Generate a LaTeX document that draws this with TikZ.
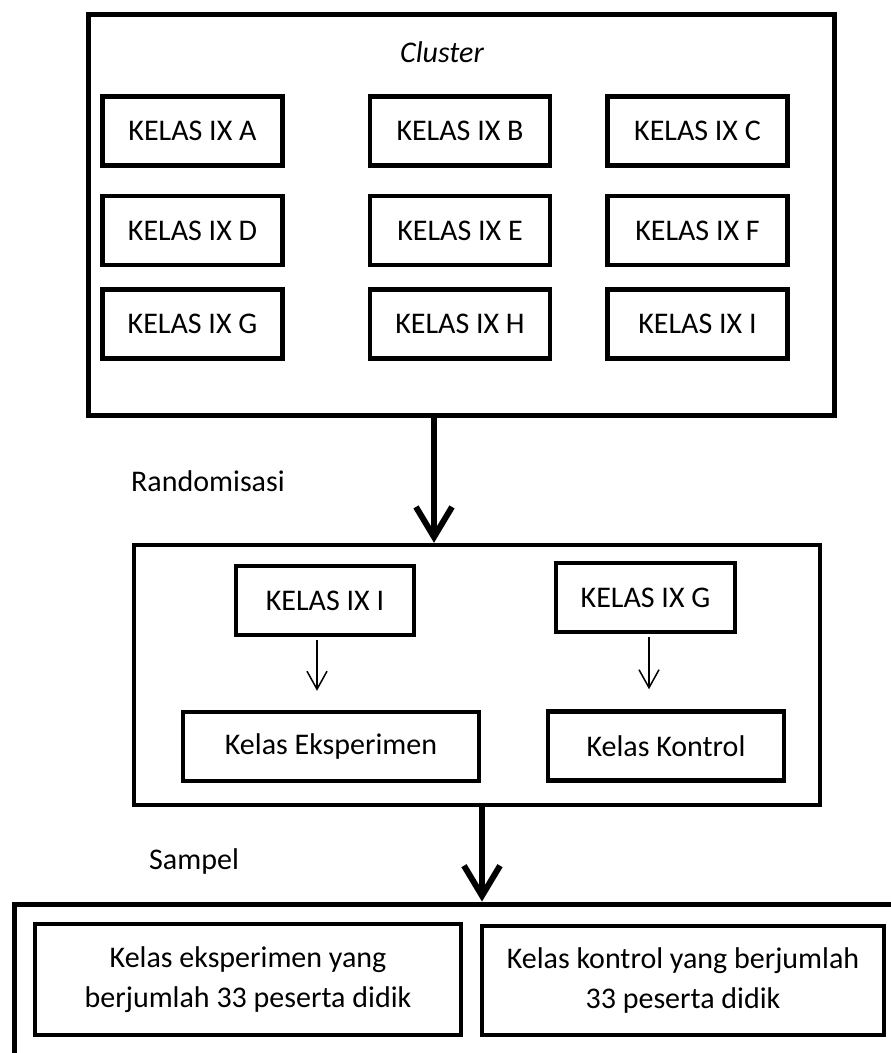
\documentclass[tikz,border=0pt]{standalone}
\usepackage{fontspec}
\setmainfont{Carlito}
\usetikzlibrary{arrows.meta}
\begin{document}
\begin{tikzpicture}[x=1pt,y=-1pt,
	kotak/.style={draw,line width=4.5pt,inner sep=0pt,minimum height=69pt,align=center,font=\fontsize{30}{40}\selectfont},
	bingkai/.style={draw,line width=5pt,inner sep=0pt},
	tebal/.style={line width=6pt,-{Straight Barb[length=30pt,width=36pt]}},
	tipis/.style={line width=1.5pt,-{Straight Barb[length=18pt,width=20pt]}},
	teks/.style={font=\fontsize{30}{36}\selectfont,anchor=west,inner sep=0pt}]
	\fill[white] (0,0) rectangle (891,1053);
	\clip (0,0) rectangle (891,1053);
	\node[bingkai,minimum width=746pt,minimum height=401pt] (cluster) at (461,214.5) {};
	\node[teks,anchor=center,font=\fontsize{30}{36}\selectfont\itshape] (judul) at (442,52) {Cluster};
	\foreach \nama/\x/\y in {A/192.5/131, B/460/131, C/697.5/131,
		D/192.5/230.5, E/460/230.5, F/697.5/230.5,
		G/192.5/324, H/460/324, I/697.5/324}
		\node[kotak,minimum width=180pt] (k\nama) at (\x,\y) {KELAS IX \nama};
	\node[bingkai,line width=4.5pt,minimum width=686pt,minimum height=260pt] (acak) at (477,675) {};
	\node[teks] (lblacak) at (131,481) {Randomisasi};
	\node[kotak,minimum width=178pt] (ki) at (325,600.5) {KELAS IX I};
	\node[kotak,minimum width=179pt] (kg) at (645.5,597.5) {KELAS IX G};
	\node[kotak,minimum width=296pt] (ke) at (331,746.5) {Kelas Eksperimen};
	\node[kotak,minimum width=236pt] (kk) at (666,746) {Kelas Kontrol};
	\node[bingkai,minimum width=946pt,minimum height=216pt] (sampel) at (487,1012) {};
	\node[teks] (lblsampel) at (149,861) {Sampel};
	\node[kotak,minimum width=426pt,minimum height=111pt] (se) at (248,979.5) {Kelas eksperimen yang\\berjumlah 33 peserta didik};
	\node[kotak,minimum width=402pt,minimum height=109pt] (sk) at (683,980.5) {Kelas kontrol yang berjumlah\\33 peserta didik};
	\coordinate (p1) at (434,0);
	\coordinate (p2) at (482,0);
	\coordinate (q1) at (317,0);
	\coordinate (q2) at (649,0);
	\draw[tebal] (cluster.south -| p1) -- (acak.north -| p1);
	\draw[tebal] (acak.south -| p2) -- (sampel.north -| p2);
	\draw[tipis] ([yshift=-3pt]ki.south -| q1) -- ([yshift=19pt]ke.north -| q1);
	\draw[tipis] ([yshift=-3pt]kg.south -| q2) -- ([yshift=20pt]kk.north -| q2);
\end{tikzpicture}
\end{document}
